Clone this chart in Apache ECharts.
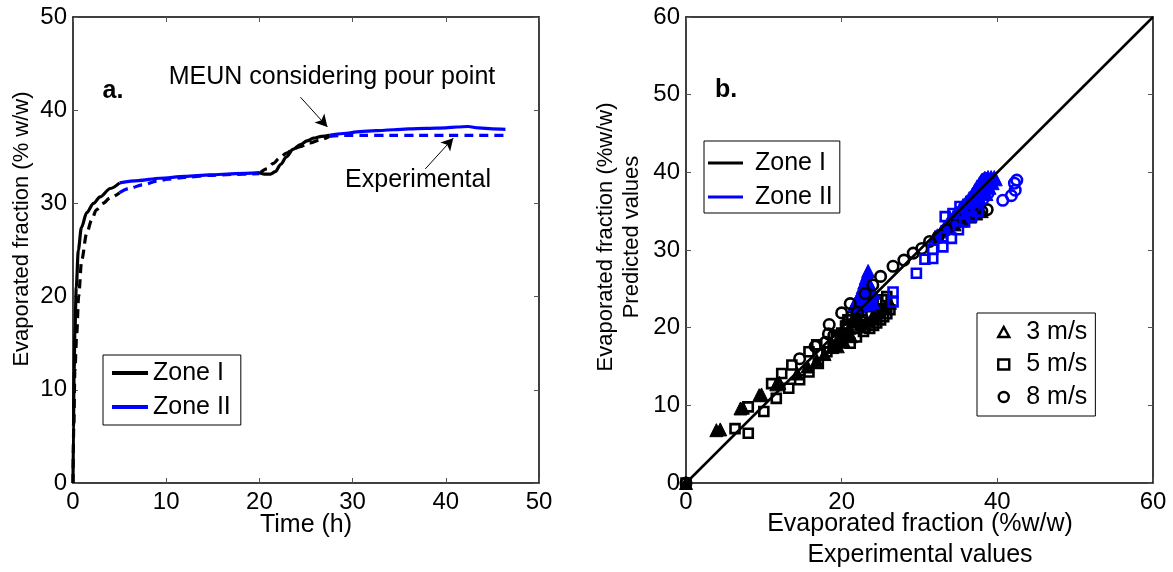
<!DOCTYPE html>
<html>
<head>
<meta charset="utf-8">
<script src="https://cdn.jsdelivr.net/npm/echarts@6/dist/echarts.min.js"></script>
<style>
html, body { margin: 0; padding: 0; background: #fff; }
#chart { width: 1173px; height: 572px; }
</style>
</head>
<body>
<div id="chart"></div>
<script>
// ---------- Panel a: evaporated fraction (% w/w) against time (h) ----------
// MEUN model, solid lines, split into the two zones
const modelZoneI_early = [[0,0],[0.05,6],[0.12,12],[0.2,16],[0.35,21],[0.57,25],[0.9,27.4],[1.47,29],[2.2,30],[2.9,30.7],[4,31.6],[5,32.2]];
const modelZoneII_mid = [[5,32.2],[7,32.45],[9.3,32.7],[12,32.9],[14.7,33.05],[17.5,33.2],[20,33.3]];
const modelZoneI_late = [[20,33.3],[20.5,33.15],[21.2,33.15],[21.7,33.4],[22.3,34.2],[22.9,35.0],[23.6,35.8],[24.4,36.3],[25.1,36.7],[25.8,37.0],[26.7,37.2],[27.5,37.3]];
const modelZoneII_end = [[27.5,37.3],[29,37.5],[30.8,37.7],[32.5,37.8],[34.4,37.9],[36,38.0],[37.9,38.05],[40,38.1],[41.2,38.2],[42.4,38.25],[43.5,38.1],[45,38.0],[46.4,37.95]];

// Experimental curve, dashed lines
const expZoneI_early = [[0,0],[0.08,6],[0.2,12],[0.4,16],[0.6,20],[0.93,23.9],[1.47,26.8],[2,28.2],[2.5,29.3],[3.2,30.0],[4,30.6],[5,31.15]];
const expZoneII_mid = [[5,31.15],[6,31.6],[7.5,32.0],[9,32.4],[10.2,32.6],[12,32.8],[14.7,33.0],[17,33.1],[20,33.2]];
const expZoneI_late = [[20,33.2],[20.8,33.7],[21.5,34.3],[22.2,34.9],[22.9,35.4],[23.6,35.8],[24.4,36.1],[25.4,36.5],[26.5,36.8],[27.5,37.2]];
const expZoneII_end = [[27.5,37.2],[29,37.3],[31,37.3],[34,37.3],[37,37.3],[40,37.3],[43,37.3],[46.4,37.3]];

// Annotation arrows (tail -> head, in data units)
const arrowModel = [[24.4,41.4],[27.3,38.2]];
const arrowExp = [[37.8,33.7],[40.8,37.0]];

// ---------- Panel b: predicted vs experimental evaporated fraction ----------
const tri3_zoneI = [[0,0],[3.9,6.8],[4.4,6.9],[7.0,9.6],[7.3,9.7],[9.4,11.3],[9.7,11.4],[11.6,12.7],[12.0,12.9],[14.3,14.1],[15.6,15.0],[16.8,15.8],[17.8,16.6],[18.8,17.5],[19.6,18.3],[20.4,19.2],[21.0,20.0],[21.5,20.8],[21.8,21.6],[22.0,22.3],[22.5,20.6],[23.2,21.0],[24.0,21.5],[24.8,22.0],[25.5,22.6],[26.2,23.2],[19.5,17.6],[20.3,18.2],[21.2,18.9],[34.5,33.3],[35.5,33.8],[36.5,34.3],[37.3,34.7],[38.0,35.0]];
const sq5_zoneI = [[0,0],[6.3,7.0],[8.0,6.4],[8.0,9.8],[10.0,9.2],[11.0,12.8],[11.6,10.9],[12.3,14.1],[13.2,12.2],[13.6,15.2],[14.6,13.3],[15.8,16.9],[15.8,14.3],[16.8,17.8],[17.0,15.4],[18.1,16.9],[18.9,17.6],[19.3,18.9],[19.8,18.4],[20.0,19.3],[20.5,20.2],[21.1,18.0],[21.5,19.9],[21.9,18.8],[21.9,21.8],[22.4,20.3],[22.8,19.5],[22.6,22.2],[23.2,22.7],[23.6,19.9],[23.9,22.9],[24.1,20.3],[24.5,20.6],[24.5,23.3],[25.0,21.0],[25.2,23.6],[25.4,21.4],[25.8,24.0],[25.8,21.8],[26.2,22.3],[20.8,21.0],[21.3,21.4],[22.2,22.0],[23.0,20.0],[24.8,22.2]];
const circ8_zoneI = [[0,0],[14.6,16.0],[16.6,17.6],[17.9,18.1],[18.3,19.2],[18.4,20.4],[19.0,19.0],[20.0,21.9],[20.6,20.4],[21.1,23.1],[22.0,22.0],[23.0,24.4],[24.0,25.5],[25.0,26.6],[26.6,27.9],[28.0,28.7],[29.2,29.6],[30.3,30.2],[31.3,31.1],[32.4,31.7],[33.5,32.6],[34.6,33.3],[35.7,33.9],[36.8,34.5],[38.0,35.0],[38.7,35.2]];
const tri3_zoneII = [[21.6,22.9],[22.1,22.8],[22.6,22.9],[23.1,23.0],[23.6,23.1],[24.0,23.3],[21.9,23.4],[22.2,24.0],[22.5,24.6],[22.7,25.2],[22.9,25.8],[23.1,26.4],[23.3,26.9],[23.4,27.3],[22.8,23.6],[23.2,24.1],[23.5,24.6],[23.8,24.0],[24.1,24.5],[23.6,25.4],[23.4,26.0],[22.6,23.8],[23.0,24.8],[32.0,31.7],[32.3,31.9],[32.8,32.4],[33.2,32.9],[33.6,33.4],[34.0,33.9],[34.4,34.4],[34.8,34.8],[35.2,35.3],[35.6,35.8],[36.0,36.2],[36.4,36.7],[36.8,37.2],[37.1,37.7],[37.4,38.2],[37.7,38.6],[38.0,39.0],[38.4,39.3],[38.8,39.4],[39.2,39.4],[39.6,39.4],[39.8,39.1],[39.4,38.6],[39.0,38.0],[38.6,37.2],[37.5,36.8],[38.0,37.5],[38.3,38.2],[38.7,38.8],[36.5,35.5],[37.0,36.0],[37.6,36.2],[35.6,34.8],[34.8,34.0],[33.8,33.0]];
const sq5_zoneII = [[26.6,24.6],[26.6,23.3],[29.6,27.0],[30.7,28.8],[31.7,28.9],[31.7,30.1],[33.0,30.4],[33.0,31.7],[33.3,34.3],[34.1,31.5],[34.3,34.7],[35.0,32.6],[35.2,35.6],[35.8,33.6],[36.1,35.1],[36.7,34.3],[37.1,36.5],[37.5,35.0]];
const circ8_zoneII = [[38.8,37.3],[38.8,38.4],[38.5,39.2],[40.7,36.4],[41.8,37.0],[42.3,37.7],[42.2,38.6],[42.5,39.0],[37.6,36.2],[38.2,36.6]];
const parityLine = [[0,0],[60,60]];

const FONT = '"Liberation Sans", Arial, Helvetica, sans-serif';
const BLUE = '#0000ff';

function mkAxis(gridIndex, min, max, interval, position, showLabels) {
  return {
    type: 'value', gridIndex, min, max, interval, position,
    axisLine: { show: true, onZero: false, lineStyle: { color: '#000', width: 1.5 } },
    axisTick: { show: true, inside: true, length: 5, lineStyle: { color: '#555', width: 1 } },
    axisLabel: {
      show: showLabels, color: '#000', fontSize: 24, fontFamily: FONT,
      margin: (position === 'bottom') ? 7 : 6, showMinLabel: true, showMaxLabel: true
    },
    splitLine: { show: false }
  };
}

function curve(name, data, color, dashed) {
  return {
    type: 'line', name, data, xAxisIndex: 0, yAxisIndex: 0,
    symbol: 'none', smooth: 0.3, smoothMonotone: 'x',
    color, itemStyle: { color },
    lineStyle: { color, width: 3.2, type: dashed ? [9, 6] : 'solid' },
    emphasis: { disabled: true }, animation: false
  };
}

function arrow(pts) {
  return {
    silent: true, animation: false,
    symbol: ['none', 'arrow'], symbolSize: [10, 12],
    label: { show: false },
    lineStyle: { color: '#000', width: 1, type: 'solid' },
    emphasis: { disabled: true },
    data: [[{ coord: pts[0] }, { coord: pts[1] }]]
  };
}

function dots(name, data, symbol, color, filled, size) {
  return {
    type: 'scatter', name, data, xAxisIndex: 2, yAxisIndex: 2,
    symbol, symbolSize: size,
    itemStyle: filled ? { color, borderColor: color, borderWidth: 1, opacity: 1 }
                      : { color: 'rgba(0,0,0,0)', borderColor: color, borderWidth: 2.6, opacity: 1 },
    emphasis: { disabled: true }, animation: false
  };
}

const expBlackLate = curve('Experimental (Zone I, late)', expZoneI_late, '#000', true);
expBlackLate.markLine = arrow(arrowModel);
const expBlueEnd = curve('Experimental (Zone II, end)', expZoneII_end, BLUE, true);
expBlueEnd.markLine = arrow(arrowExp);

const legendText = { color: '#000', fontSize: 25, fontFamily: FONT, lineHeight: 26 };

const option = {
  animation: false,
  backgroundColor: '#fff',
  grid: [
    { left: 73, top: 17, width: 466, height: 466, show: false },
    { left: 686, top: 17, width: 467, height: 466, show: false }
  ],
  xAxis: [
    mkAxis(0, 0, 50, 10, 'bottom', true), mkAxis(0, 0, 50, 10, 'top', false),
    mkAxis(1, 0, 60, 20, 'bottom', true), mkAxis(1, 0, 60, 20, 'top', false)
  ],
  yAxis: [
    mkAxis(0, 0, 50, 10, 'left', true), mkAxis(0, 0, 50, 10, 'right', false),
    mkAxis(1, 0, 60, 10, 'left', true), mkAxis(1, 0, 60, 10, 'right', false)
  ],
  legend: [
    {
      data: ['Zone I', 'Zone II'], orient: 'vertical', left: 103, top: 355,
      padding: [5, 10, 5, 9], itemGap: 8, itemWidth: 36, itemHeight: 4, icon: 'rect',
      borderColor: '#000', borderWidth: 1, backgroundColor: '#fff',
      textStyle: legendText, selectedMode: false
    },
    {
      data: ['Zone I', 'Zone II'], orient: 'vertical', left: 704, top: 141,
      padding: [9, 7, 3, 4], itemGap: 8, itemWidth: 35, itemHeight: 3, icon: 'rect',
      borderColor: '#000', borderWidth: 1, backgroundColor: '#fff',
      textStyle: Object.assign({}, legendText, { padding: [0, 0, 0, 7] }), selectedMode: false
    },
    {
      data: [
        { name: '3 m/s', icon: 'triangle', itemStyle: { color: '#fff', borderColor: '#000', borderWidth: 2.5, opacity: 1 } },
        { name: '5 m/s', icon: 'rect', itemStyle: { color: '#fff', borderColor: '#000', borderWidth: 2.4, opacity: 1 } },
        { name: '8 m/s', icon: 'circle', itemStyle: { color: '#fff', borderColor: '#000', borderWidth: 2.4, opacity: 1 } }
      ],
      orient: 'vertical', left: 977, top: 313,
      padding: [6, 8, 6, 20], itemGap: 6.5, itemWidth: 11, itemHeight: 10,
      borderColor: '#000', borderWidth: 1, backgroundColor: '#fff',
      textStyle: Object.assign({}, legendText, { padding: [0, 0, 0, 12] }), selectedMode: false
    }
  ],
  series: [
    curve('Zone I', modelZoneI_early, '#000', false),
    curve('Zone II', modelZoneII_mid, BLUE, false),
    curve('Zone I', modelZoneI_late, '#000', false),
    curve('Zone II', modelZoneII_end, BLUE, false),
    curve('Experimental (Zone I, early)', expZoneI_early, '#000', true),
    curve('Experimental (Zone II, mid)', expZoneII_mid, BLUE, true),
    expBlackLate,
    expBlueEnd,

    dots('5 m/s', sq5_zoneI, 'rect', '#000', false, 9),
    dots('3 m/s', tri3_zoneI, 'triangle', '#000', true, 13),
    dots('3 m/s (Zone II)', tri3_zoneII, 'triangle', BLUE, true, 13),
    dots('8 m/s', circ8_zoneI, 'circle', '#000', false, 10.5),
    dots('5 m/s (Zone II)', sq5_zoneII, 'rect', BLUE, false, 9),
    dots('8 m/s (Zone II)', circ8_zoneII, 'circle', BLUE, false, 10.5),
    {
      type: 'line', name: 'y = x', data: parityLine, xAxisIndex: 2, yAxisIndex: 2,
      symbol: 'none', z: 5, lineStyle: { color: '#000', width: 2.5 },
      emphasis: { disabled: true }, animation: false
    }
  ],
  graphic: [
    { type: 'text', x: 113, y: 91, style: { text: 'a.', font: 'bold 25px ' + FONT, fill: '#000', align: 'center', verticalAlign: 'middle', textAlign: 'center', textVerticalAlign: 'middle' } },
    { type: 'text', x: 726, y: 90, style: { text: 'b.', font: 'bold 25px ' + FONT, fill: '#000', align: 'center', verticalAlign: 'middle', textAlign: 'center', textVerticalAlign: 'middle' } },
    { type: 'text', x: 332, y: 77, style: { text: 'MEUN considering pour point', font: '25px ' + FONT, fill: '#000', align: 'center', verticalAlign: 'middle', textAlign: 'center', textVerticalAlign: 'middle' } },
    { type: 'text', x: 418, y: 180, style: { text: 'Experimental', font: '25px ' + FONT, fill: '#000', align: 'center', verticalAlign: 'middle', textAlign: 'center', textVerticalAlign: 'middle' } },
    { type: 'text', x: 306, y: 525, style: { text: 'Time (h)', font: '25px ' + FONT, fill: '#000', align: 'center', verticalAlign: 'middle', textAlign: 'center', textVerticalAlign: 'middle' } },
    { type: 'text', x: 22, y: 229, rotation: Math.PI / 2, style: { text: 'Evaporated fraction (% w/w)', font: '22px ' + FONT, fill: '#000', align: 'center', verticalAlign: 'middle', textAlign: 'center', textVerticalAlign: 'middle' } },
    { type: 'text', x: 920, y: 524, style: { text: 'Evaporated fraction (%w/w)', font: '25px ' + FONT, fill: '#000', align: 'center', verticalAlign: 'middle', textAlign: 'center', textVerticalAlign: 'middle' } },
    { type: 'text', x: 920, y: 555, style: { text: 'Experimental values', font: '25px ' + FONT, fill: '#000', align: 'center', verticalAlign: 'middle', textAlign: 'center', textVerticalAlign: 'middle' } },
    { type: 'text', x: 606, y: 237, rotation: Math.PI / 2, style: { text: 'Evaporated fraction (%w/w)', font: '22px ' + FONT, fill: '#000', align: 'center', verticalAlign: 'middle', textAlign: 'center', textVerticalAlign: 'middle' } },
    { type: 'text', x: 632, y: 237, rotation: Math.PI / 2, style: { text: 'Predicted values', font: '22px ' + FONT, fill: '#000', align: 'center', verticalAlign: 'middle', textAlign: 'center', textVerticalAlign: 'middle' } }
  ]
};

const chart = echarts.init(document.getElementById('chart'), null, { renderer: 'canvas' });
chart.setOption(option);
</script>
</body>
</html>
